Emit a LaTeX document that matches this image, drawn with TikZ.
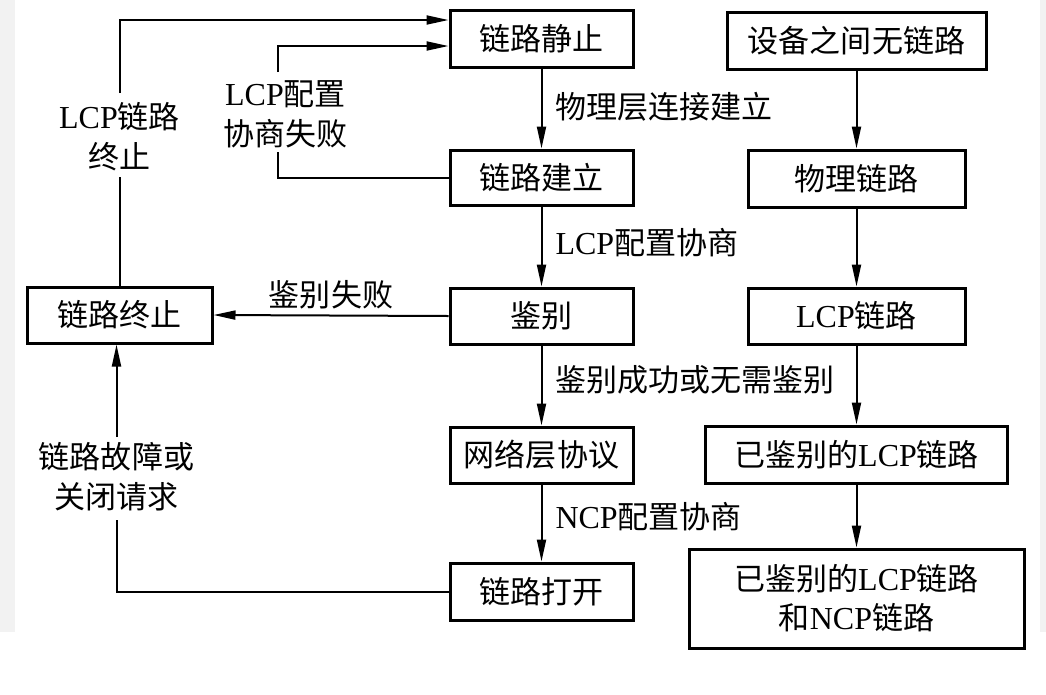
\documentclass[tikz,border=0pt]{standalone}
\usepackage{fontspec}
\setmainfont{Liberation Serif}
\newfontfamily\cjk{Noto Sans CJK SC}[Scale=0.97]
\usetikzlibrary{arrows.meta,calc}
\newcommand\zh[1]{{\cjk #1}}
\begin{document}
\begin{tikzpicture}[x=1pt,y=-1pt,
  box/.style={draw, line width=3pt, inner sep=0pt, align=center, font=\fontsize{32}{39}\selectfont},
  lbl/.style={inner sep=2pt, align=center, font=\fontsize{32}{40}\selectfont},
  arr/.style={line width=2pt, -{Triangle[length=22pt,width=9pt]}},
  ln/.style={line width=2pt}]
\useasboundingbox (0,0) rectangle (1046,694);
\fill[white] (0,0) rectangle (1046,694);
\fill[black!5] (0,0) rectangle (15,632);
\fill[black!5] (1040,0) rectangle (1046,632);

% centre column
\node[box, minimum width=183pt, minimum height=57pt] (s1) at (541.5,38.5) {\zh{链路静止}};
\node[box, minimum width=183pt, minimum height=55pt] (s2) at (541.5,177.5) {\zh{链路建立}};
\node[box, minimum width=183pt, minimum height=56pt] (s3) at (541.5,316) {\zh{鉴别}};
\node[box, minimum width=183pt, minimum height=56pt] (s4) at (541.5,455) {\zh{网络层协议}};
\node[box, minimum width=183pt, minimum height=57pt] (s5) at (541.5,591.5) {\zh{链路打开}};
% left
\node[box, minimum width=185pt, minimum height=56pt] (t) at (119.5,315) {\zh{链路终止}};
% right column
\node[box, minimum width=259pt, minimum height=57pt] (r1) at (856.5,40.5) {\zh{设备之间无链路}};
\node[box, minimum width=217pt, minimum height=57pt] (r2) at (856.5,178.5) {\zh{物理链路}};
\node[box, minimum width=217pt, minimum height=56pt] (r3) at (856.5,316) {LCP\zh{链路}};
\node[box, minimum width=302pt, minimum height=57pt] (r4) at (856.5,454.5) {\zh{已鉴别的}LCP\zh{链路}};
\node[box, minimum width=335pt, minimum height=99pt] (r5) at (856.5,598.5) {\zh{已鉴别的}LCP\zh{链路}\\\zh{和}NCP\zh{链路}};

% centre arrows
\draw[arr] (s1) -- (s2) node[lbl, anchor=west, pos=0.48, xshift=11pt] {\zh{物理层连接建立}};
\draw[arr] (s2) -- (s3) node[lbl, anchor=west, pos=0.45, xshift=11pt] {LCP\zh{配置协商}};
\draw[arr] (s3) -- (s4) node[lbl, anchor=west, pos=0.43, xshift=11pt] {\zh{鉴别成功或无需鉴别}};
\draw[arr] (s4) -- (s5) node[lbl, anchor=west, pos=0.42, xshift=11pt] {NCP\zh{配置协商}};

% right arrows
\draw[arr] (r1) -- (r2);
\draw[arr] (r2) -- (r3);
\draw[arr] (r3) -- (r4);
\draw[arr] (r4) -- (r5);

% authentication failure
\draw[arr] (s3.west) -- (t.east) node[lbl, midway, above=3pt] {\zh{鉴别失败}};

% LCP link termination loop
\node[lbl] (lab1) at (119.5,137) {LCP\zh{链路}\\\zh{终止}};
\coordinate (k1a) at (119.5,177);
\coordinate (k1b) at (119.5,93);
\draw[ln] (t.north) -- (k1a);
\draw[arr] (k1b) |- ([yshift=18.5pt]s1.west);

% LCP config negotiation failure loop
\node[lbl] (lab2) at (285.5,114) {LCP\zh{配置}\\\zh{协商失败}};
\coordinate (k2a) at (278,152);
\coordinate (k2b) at (278,72);
\draw[ln] (s2.west) -| (k2a);
\draw[arr] (k2b) |- ([yshift=-7.5pt]s1.west);

% link failure / close request
\node[lbl] (lab3) at (116.5,477) {\zh{链路故障或}\\\zh{关闭请求}};
\coordinate (k3a) at (116.5,437);
\coordinate (k3b) at (116.5,520);
\draw[ln] (s5.west) -| (k3b);
\draw[arr] (k3a) -- (k3a |- t.south);
\end{tikzpicture}
\end{document}
